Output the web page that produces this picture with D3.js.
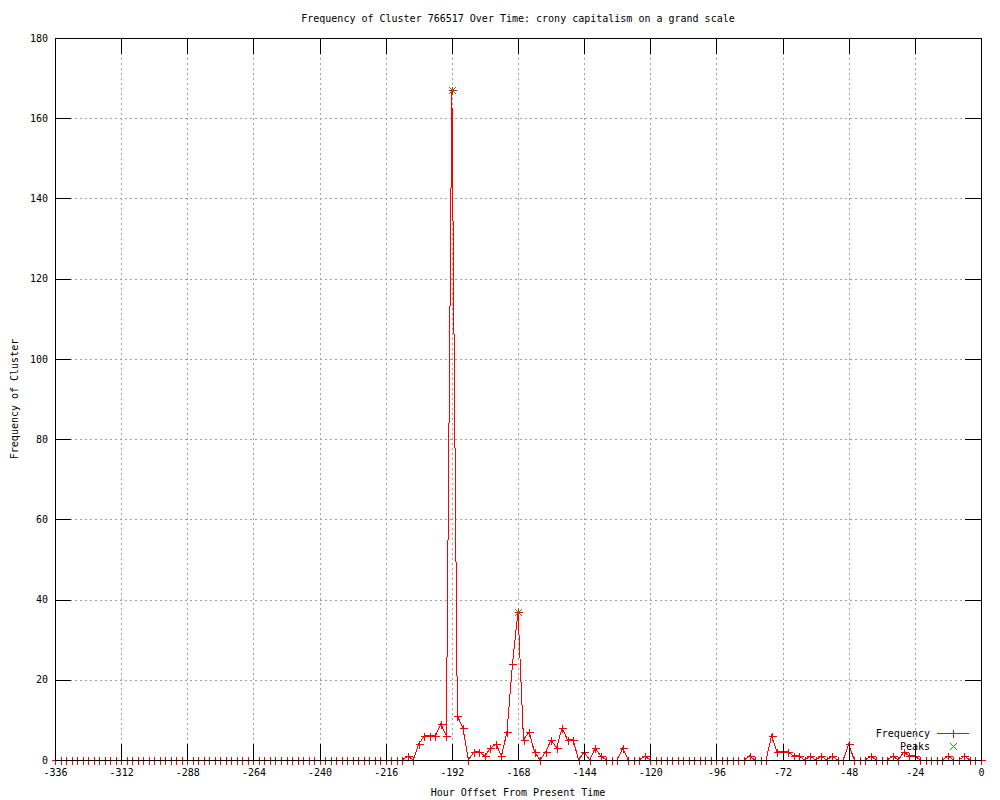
<!DOCTYPE html>
<html>
<head>
<meta charset="utf-8">
<script src="https://cdn.jsdelivr.net/npm/d3@7"></script>
<style>
  body { margin: 0; background: #fff; }
  svg { display: block; font-family: "DejaVu Sans Mono", monospace; font-size: 10px; }
</style>
</head>
<body>
<div id="chart"></div>
<script>
// hour offsets, every 2 hours from -336 to 0
const hours = [
  -336, -334, -332, -330, -328, -326, -324, -322, -320, -318, -316, -314,
  -312, -310, -308, -306, -304, -302, -300, -298, -296, -294, -292, -290,
  -288, -286, -284, -282, -280, -278, -276, -274, -272, -270, -268, -266,
  -264, -262, -260, -258, -256, -254, -252, -250, -248, -246, -244, -242,
  -240, -238, -236, -234, -232, -230, -228, -226, -224, -222, -220, -218,
  -216, -214, -212, -210, -208, -206, -204, -202, -200, -198, -196, -194,
  -192, -190, -188, -186, -184, -182, -180, -178, -176, -174, -172, -170,
  -168, -166, -164, -162, -160, -158, -156, -154, -152, -150, -148, -146,
  -144, -142, -140, -138, -136, -134, -132, -130, -128, -126, -124, -122,
  -120, -118, -116, -114, -112, -110, -108, -106, -104, -102, -100, -98,
  -96, -94, -92, -90, -88, -86, -84, -82, -80, -78, -76, -74,
  -72, -70, -68, -66, -64, -62, -60, -58, -56, -54, -52, -50,
  -48, -46, -44, -42, -40, -38, -36, -34, -32, -30, -28, -26,
  -24, -22, -20, -18, -16, -14, -12, -10, -8, -6, -4, -2,
  0
];
const frequency = [
  0, 0, 0, 0, 0, 0, 0, 0, 0, 0, 0, 0,
  0, 0, 0, 0, 0, 0, 0, 0, 0, 0, 0, 0,
  0, 0, 0, 0, 0, 0, 0, 0, 0, 0, 0, 0,
  0, 0, 0, 0, 0, 0, 0, 0, 0, 0, 0, 0,
  0, 0, 0, 0, 0, 0, 0, 0, 0, 0, 0, 0,
  0, 0, 0, 0, 1, 0, 4, 6, 6, 6, 9, 6,
  167, 11, 8, 0, 2, 2, 1, 3, 4, 1, 7, 24,
  37, 5, 7, 2, 0, 2, 5, 3, 8, 5, 5, 0,
  2, 0, 3, 1, 0, 0, 0, 3, 0, 0, 0, 1,
  0, 0, 0, 0, 0, 0, 0, 0, 0, 0, 0, 0,
  0, 0, 0, 0, 0, 0, 1, 0, 0, 0, 6, 2,
  2, 2, 1, 1, 0, 1, 0, 1, 0, 1, 0, 0,
  4, 0, 0, 0, 1, 0, 0, 0, 1, 0, 2, 1,
  1, 0, 0, 0, 0, 0, 1, 0, 0, 1, 0, 0,
  0
];
const peakHours = [-192, -168];
const peakValues = [167, 37];
const xTicks = [-336, -312, -288, -264, -240, -216, -192, -168, -144, -120, -96, -72, -48, -24, 0];
const yTicks = [0, 20, 40, 60, 80, 100, 120, 140, 160, 180];

const width = 1000, height = 800;
const margin = {top: 38, right: 19, bottom: 40, left: 55};
const TICK = 16;
const RED = "#ff0000", GREEN = "#00c000";

const data = hours.map((h, i) => ({x: h, y: frequency[i]}));
const peaks = peakHours.map((h, i) => ({x: h, y: peakValues[i]}));

const x = d3.scaleLinear()
    .domain([-336, 0])
    .range([margin.left, width - margin.right]);
const y = d3.scaleLinear()
    .domain([0, 180])
    .range([height - margin.bottom, margin.top]);

const plotW = width - margin.left - margin.right;
const plotH = height - margin.top - margin.bottom;

const svg = d3.select("#chart").append("svg")
    .attr("width", width)
    .attr("height", height)
    .attr("viewBox", [0, 0, width, height]);

// grid
svg.append("g")
    .attr("transform", `translate(0,${height - margin.bottom})`)
    .call(d3.axisBottom(x).tickValues(xTicks.slice(1, -1)).tickSize(-plotH).tickFormat(""))
    .call(g => g.select(".domain").remove())
    .call(g => g.selectAll("line").attr("stroke", "#a0a0a0").attr("stroke-dasharray", "2,3")
        .attr("shape-rendering", "crispEdges"));
svg.append("g")
    .attr("transform", `translate(${margin.left},0)`)
    .call(d3.axisLeft(y).tickValues(yTicks.slice(1, -1)).tickSize(-plotW).tickFormat(""))
    .call(g => g.select(".domain").remove())
    .call(g => g.selectAll("line").attr("stroke", "#a0a0a0").attr("stroke-dasharray", "2,3")
        .attr("shape-rendering", "crispEdges"));

// frequency line
const line = d3.line().x(d => x(d.x)).y(d => y(d.y));
svg.append("path")
    .datum(data)
    .attr("fill", "none")
    .attr("stroke", RED)
    .attr("stroke-width", 1)
    .attr("shape-rendering", "crispEdges")
    .attr("d", line);

const plus = (cx, cy, r) => `M${cx - r},${cy}H${cx + r}M${cx},${cy - r}V${cy + r}`;
const cross = (cx, cy, r) => `M${cx - r},${cy - r}L${cx + r},${cy + r}M${cx - r},${cy + r}L${cx + r},${cy - r}`;

svg.append("g")
    .selectAll("path")
    .data(data)
    .join("path")
    .attr("d", d => plus(Math.round(x(d.x)) + 0.5, Math.round(y(d.y)) + 0.5, 4))
    .attr("stroke", RED)
    .attr("fill", "none")
    .attr("shape-rendering", "crispEdges");

svg.append("g")
    .selectAll("path")
    .data(peaks)
    .join("path")
    .attr("d", d => cross(Math.round(x(d.x)) + 0.5, Math.round(y(d.y)) + 0.5, 3.5))
    .attr("stroke", GREEN)
    .attr("fill", "none")
    .attr("shape-rendering", "crispEdges");

// axes with inward ticks on all four sides
const styleAxis = g => g
    .call(g => g.select(".domain").remove())
    .call(g => g.selectAll("line").attr("stroke", "#000").attr("shape-rendering", "crispEdges"))
    .call(g => g.selectAll("text").attr("fill", "#000")
        .style("font-family", "DejaVu Sans Mono, monospace").style("font-size", "10px"));

svg.append("g")
    .attr("transform", `translate(0,${height - margin.bottom})`)
    .call(d3.axisBottom(x).tickValues(xTicks).tickSizeInner(-TICK).tickSizeOuter(0)
        .tickPadding(9).tickFormat(d => String(d)))
    .call(styleAxis);
svg.append("g")
    .attr("transform", `translate(0,${margin.top})`)
    .call(d3.axisTop(x).tickValues(xTicks).tickSizeInner(-TICK).tickSizeOuter(0).tickFormat(""))
    .call(styleAxis);
svg.append("g")
    .attr("transform", `translate(${margin.left},0)`)
    .call(d3.axisLeft(y).tickValues(yTicks).tickSizeInner(-TICK).tickSizeOuter(0)
        .tickPadding(7).tickFormat(d => String(d)))
    .call(styleAxis);
svg.append("g")
    .attr("transform", `translate(${width - margin.right},0)`)
    .call(d3.axisRight(y).tickValues(yTicks).tickSizeInner(-TICK).tickSizeOuter(0).tickFormat(""))
    .call(styleAxis);

// border
svg.append("rect")
    .attr("x", margin.left + 0.5)
    .attr("y", margin.top + 0.5)
    .attr("width", plotW)
    .attr("height", plotH)
    .attr("fill", "none")
    .attr("stroke", "#000")
    .attr("shape-rendering", "crispEdges");

// title and axis labels
svg.append("text")
    .attr("x", margin.left + plotW / 2)
    .attr("y", 22)
    .attr("text-anchor", "middle")
    .text("Frequency of Cluster 766517 Over Time: crony capitalism on a grand scale");

svg.append("text")
    .attr("x", margin.left + plotW / 2)
    .attr("y", 796)
    .attr("text-anchor", "middle")
    .text("Hour Offset From Present Time");

svg.append("text")
    .attr("transform", `translate(18,${margin.top + plotH / 2}) rotate(-90)`)
    .attr("text-anchor", "middle")
    .text("Frequency of Cluster");

// legend
const legend = svg.append("g");
legend.append("text")
    .attr("x", 930).attr("y", 737)
    .attr("text-anchor", "end")
    .text("Frequency");
legend.append("line")
    .attr("x1", 937).attr("x2", 969)
    .attr("y1", 733.5).attr("y2", 733.5)
    .attr("stroke", RED)
    .attr("shape-rendering", "crispEdges");
legend.append("path")
    .attr("d", plus(953.5, 733.5, 4))
    .attr("stroke", RED)
    .attr("shape-rendering", "crispEdges");
legend.append("text")
    .attr("x", 930).attr("y", 750)
    .attr("text-anchor", "end")
    .text("Peaks");
legend.append("path")
    .attr("d", cross(953.5, 746.5, 3.5))
    .attr("stroke", GREEN)
    .attr("fill", "none")
    .attr("shape-rendering", "crispEdges");
</script>
</body>
</html>
